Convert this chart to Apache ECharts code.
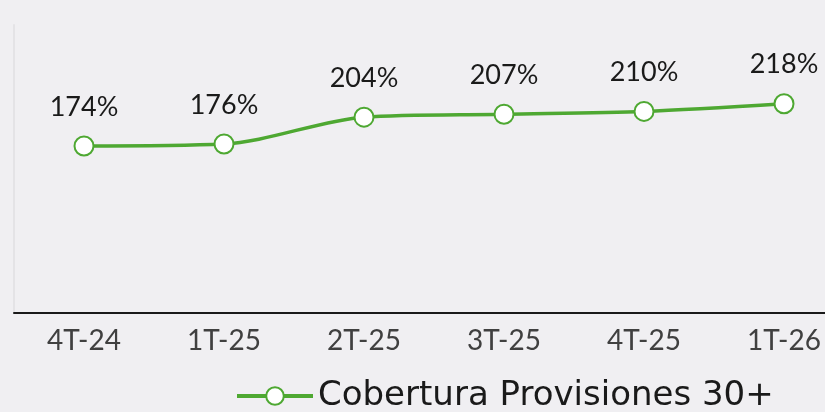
<!DOCTYPE html>
<html>
<head>
<meta charset="utf-8">
<script src="https://cdn.jsdelivr.net/npm/echarts@6/dist/echarts.min.js"></script>
<style>
html, body { margin: 0; padding: 0; background: #f0eff2; }
#chart { width: 825px; height: 412px; }
</style>
</head>
<body>
<div id="chart"></div>
<script>
// periodos
var categories = ['4T-24', '1T-25', '2T-25', '3T-25', '4T-25', '1T-26'];
// cobertura en %
var coberturaValues = [174, 176, 204, 207, 210, 218];
var seriesName = 'Cobertura Provisiones 30+';

var chart = echarts.init(document.getElementById('chart'));
var green = '#4ea832';

chart.setOption({
	backgroundColor: '#f0eff2',
	textStyle: { fontFamily: 'Lato' },
	grid: {
		left: 14,
		width: 840,
		top: 25,
		bottom: 99,
		outerBoundsMode: 'none',
	},
	legend: {
		show: true,
		left: 230,
		top: 374,
		itemWidth: 76,
		itemHeight: 22,
		itemGap: 12,
		lineStyle: { width: 4 },
		textStyle: { fontSize: 34, color: '#1a1a1a', fontFamily: 'DejaVu Sans' },
		data: [seriesName],
	},
	xAxis: {
		type: 'category',
		data: categories,
		boundaryGap: true,
		axisLine: { show: true, lineStyle: { color: '#1a1a1a', width: 2 } },
		axisTick: { show: false },
		axisLabel: { fontSize: 28, color: '#404040', margin: 14 },
	},
	yAxis: {
		type: 'value',
		min: 0,
		max: 300,
		axisLine: { show: true, lineStyle: { color: '#e4e3e6', width: 2 } },
		axisTick: { show: false },
		axisLabel: { show: false },
		splitLine: { show: false },
	},
	series: [{
		name: seriesName,
		type: 'line',
		data: coberturaValues,
		smooth: 0.3,
		symbol: 'circle',
		symbolSize: 19,
		lineStyle: { color: green, width: 3.5 },
		itemStyle: { color: '#ffffff', borderColor: green, borderWidth: 2 },
		label: {
			show: true,
			position: 'top',
			distance: 15,
			fontSize: 27,
			color: '#1a1a1a',
			formatter: function(p) { return p.value + '%'; },
		},
	}],
});
</script>
</body>
</html>
